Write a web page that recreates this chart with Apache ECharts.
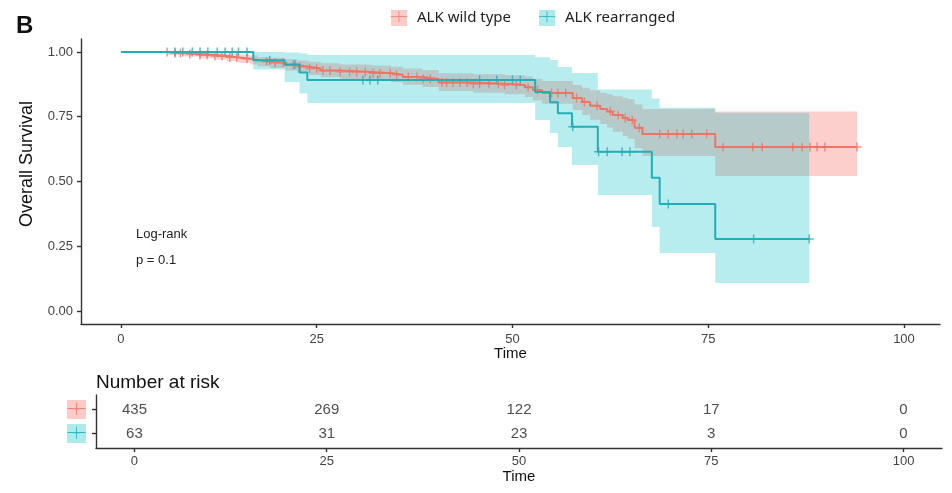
<!DOCTYPE html>
<html>
<head>
<meta charset="utf-8">
<script src="https://cdn.jsdelivr.net/npm/echarts@6/dist/echarts.min.js"></script>
<style>html,body{margin:0;padding:0;background:#fff}#c{width:952px;height:493px}</style>
</head>
<body>
<div id="c"></div>
<script>
// ---------- data ----------
const groupNames = ['ALK wild type', 'ALK rearranged'];

// ALK wild type: KM step curve
const wildTimes = [0, 6, 8, 10, 12, 13.5, 15, 16.5, 17.5, 19, 21, 22.5, 24, 25.5, 28, 32, 34.5, 36, 38.5, 40.6, 45, 49, 51.6, 52.6, 53.8, 57.7, 58.9, 59.9, 61.2, 62.1, 62.8, 64.1, 64.7, 65.6, 66.6, 75.9, 94];
const wildSurv  = [1, 0.996, 0.992, 0.988, 0.984, 0.979, 0.974, 0.969, 0.963, 0.958, 0.950, 0.943, 0.936, 0.928, 0.923, 0.918, 0.912, 0.903, 0.896, 0.882, 0.877, 0.872, 0.864, 0.853, 0.842, 0.822, 0.807, 0.792, 0.780, 0.770, 0.757, 0.745, 0.737, 0.707, 0.683, 0.633, 0.633];
const wildLower = [1, 0.988, 0.982, 0.976, 0.971, 0.965, 0.958, 0.952, 0.945, 0.938, 0.928, 0.920, 0.911, 0.902, 0.896, 0.890, 0.883, 0.873, 0.865, 0.849, 0.843, 0.837, 0.826, 0.813, 0.800, 0.776, 0.757, 0.738, 0.722, 0.708, 0.692, 0.676, 0.665, 0.628, 0.598, 0.521, 0.521];
const wildUpper = [1, 1, 1, 1, 0.997, 0.993, 0.990, 0.986, 0.981, 0.978, 0.972, 0.967, 0.962, 0.956, 0.952, 0.948, 0.943, 0.936, 0.930, 0.918, 0.914, 0.910, 0.905, 0.897, 0.888, 0.872, 0.862, 0.852, 0.843, 0.837, 0.829, 0.822, 0.817, 0.797, 0.780, 0.770, 0.770];
const wildCensor = [5.9, 6.9, 7.6, 8.8, 10.1, 11.0, 12.0, 12.9, 13.9, 14.8, 16.1, 18.6, 19.7, 20.7, 22.0, 22.9, 24.1, 25.0, 25.8, 26.7, 28.0, 29.2, 30.1, 31.2, 32.2, 33.1, 34.4, 35.2, 36.7, 37.8, 38.6, 39.5, 41.0, 41.6, 42.4, 43.3, 44.2, 45.0, 45.8, 47.0, 48.2, 49.0, 50.5, 52.0, 53.2, 55.0, 55.8, 56.8, 58.2, 59.2, 60.8, 62.5, 63.5, 64.4, 65.3, 66.2, 68.8, 69.9, 71.0, 71.8, 72.9, 74.8, 76.9, 80.7, 81.9, 85.8, 87.0, 88.0, 88.9, 89.9, 94.0];

// ALK rearranged: KM step curve
const rearTimes = [0, 16.9, 20.9, 22.8, 23.8, 52.9, 54.8, 55.8, 57.6, 60.9, 67.8, 68.8, 75.9, 87.9];
const rearSurv  = [1, 0.968, 0.952, 0.921, 0.892, 0.845, 0.806, 0.763, 0.711, 0.615, 0.514, 0.413, 0.278, 0.278];
const rearLower = [1, 0.932, 0.884, 0.840, 0.803, 0.737, 0.687, 0.633, 0.564, 0.448, 0.324, 0.224, 0.108, 0.108];
const rearUpper = [1, 1, 0.998, 0.995, 0.988, 0.980, 0.969, 0.942, 0.919, 0.855, 0.820, 0.785, 0.765, 0.765];
const rearCensor = [6.9, 7.9, 9.1, 10.1, 11.1, 12.3, 13.3, 14.2, 15.0, 16.1, 19.0, 22.2, 30.9, 31.8, 32.8, 45.8, 48.0, 50.0, 51.0, 57.7, 61.0, 62.1, 64.0, 65.0, 69.9, 80.8, 87.9];

// Number at risk table
const riskTimes = [0, 25, 50, 75, 100];
const riskWild  = [435, 269, 122, 17, 0];
const riskRear  = [63, 31, 23, 3, 0];

const xTicks = [0, 25, 50, 75, 100];
const yTicks = [0, 0.25, 0.5, 0.75, 1];

// ---------- helpers ----------
const RED = '#EE7566', TEAL = '#22AEB6';
const RED_BAND = 'rgba(248,118,109,0.35)', TEAL_BAND = 'rgba(0,191,196,0.28)';
const PLUS = 'path://M-0.8,-5H0.8V-0.8H5V0.8H0.8V5H-0.8V0.8H-5V-0.8H-0.8Z';
const FONT = 'Liberation Sans';

function stepAt(times, surv, t) {
  let v = surv[0];
  for (let i = 0; i < times.length; i++) { if (times[i] <= t) v = surv[i]; }
  return v;
}
const zip = (a, b) => a.map((v, i) => [v, b[i]]);

// confidence band as one stepped polygon, drawn through the axis scales (api.coord)
function band(name, times, lower, upper, color) {
  return {
    name, type: 'custom', xAxisIndex: 0, yAxisIndex: 0, silent: true, clip: true,
    data: [[times[0], lower[0]]],
    renderItem: (params, api) => {
      const pts = [];
      for (let i = 0; i < times.length; i++) {
        if (i > 0) pts.push(api.coord([times[i], upper[i - 1]]));
        pts.push(api.coord([times[i], upper[i]]));
      }
      for (let i = times.length - 1; i >= 0; i--) {
        pts.push(api.coord([times[i], lower[i]]));
        if (i > 0) pts.push(api.coord([times[i], lower[i - 1]]));
      }
      return { type: 'polygon', shape: { points: pts }, style: { fill: color } };
    }
  };
}

const boxRich = {
  r: { backgroundColor: 'rgba(248,118,109,0.38)', color: RED, width: 16, height: 16, align: 'center', fontFamily: 'DejaVu Sans Mono', fontSize: 9, lineHeight: 16 },
  t: { backgroundColor: 'rgba(0,191,196,0.32)', color: TEAL, width: 16, height: 16, align: 'center', fontFamily: 'DejaVu Sans Mono', fontSize: 9, lineHeight: 16 },
  s: { width: 10 }
};
const boxRich2 = {
  r: Object.assign({}, boxRich.r, { width: 19, height: 19, lineHeight: 19, fontSize: 10 }),
  t: Object.assign({}, boxRich.t, { width: 19, height: 19, lineHeight: 19, fontSize: 10 })
};

const axisLineStyle = { color: '#333', width: 1.4 };

const chart = echarts.init(document.getElementById('c'), null, { renderer: 'canvas' });
chart.setOption({
  animation: false,
  backgroundColor: '#fff',
  textStyle: { fontFamily: FONT },
  title: [
    { text: 'B', left: 11, top: 9, textStyle: { fontSize: 24, fontWeight: 'bold', color: '#111', fontFamily: FONT } },
    { text: 'Number at risk', left: 91, top: 368, textStyle: { fontSize: 19, fontWeight: 'normal', color: '#111', fontFamily: FONT } }
  ],
  legend: {
    data: groupNames,
    left: 381, top: 5,
    itemWidth: 0, itemHeight: 0, itemGap: 23,
    icon: 'rect',
    formatter: name => (name === groupNames[0] ? '{r|─┼─}' : '{t|─┼─}') + '{s|}' + name,
    textStyle: { fontFamily: 'Noto Sans', fontSize: 15, color: '#222', rich: boxRich }
  },
  grid: [
    { left: 81, right: 12, top: 39, bottom: 169, containLabel: false },
    { left: 96, right: 10, top: 395, bottom: 45, containLabel: false }
  ],
  xAxis: [
    { type: 'value', gridIndex: 0, min: -5.1, max: 104.6,
      axisLine: { show: true, onZero: false, lineStyle: axisLineStyle },
      axisTick: { show: true, length: 4, customValues: xTicks, lineStyle: axisLineStyle },
      axisLabel: { customValues: xTicks, margin: 9, fontSize: 13, color: '#444', fontFamily: FONT },
      splitLine: { show: false },
      name: 'Time', nameLocation: 'middle', nameGap: 22, nameMoveOverlap: false,
      nameTextStyle: { fontSize: 15, color: '#111', fontFamily: FONT, verticalAlign: 'top' } },
    { type: 'value', gridIndex: 1, min: -5, max: 105,
      axisLine: { show: true, onZero: false, lineStyle: axisLineStyle },
      axisTick: { show: true, length: 4, customValues: xTicks, lineStyle: axisLineStyle },
      axisLabel: { customValues: xTicks, margin: 7, fontSize: 13, color: '#444', fontFamily: FONT },
      splitLine: { show: false },
      name: 'Time', nameLocation: 'middle', nameGap: 20,
      nameTextStyle: { fontSize: 15, color: '#111', fontFamily: FONT, verticalAlign: 'top' } }
  ],
  yAxis: [
    { type: 'value', gridIndex: 0, min: -0.05, max: 1.05,
      axisLine: { show: true, onZero: false, lineStyle: axisLineStyle },
      axisTick: { show: true, length: 4, customValues: yTicks, lineStyle: axisLineStyle },
      axisLabel: { customValues: yTicks, margin: 8, fontSize: 13, color: '#444', fontFamily: FONT, formatter: v => v.toFixed(2) },
      splitLine: { show: false } },
    { type: 'value', gridIndex: 1, min: 0.4, max: 2.6, inverse: true,
      axisLine: { show: true, onZero: false, lineStyle: axisLineStyle },
      axisTick: { show: true, length: 4, customValues: [1, 2], lineStyle: axisLineStyle },
      axisLabel: { customValues: [1, 2], margin: 10, formatter: v => (v === 1 ? '{r|─┼─}' : '{t|─┼─}'), rich: boxRich2 },
      splitLine: { show: false } }
  ],
  graphic: [
    { type: 'text', x: 27, y: 164, rotation: Math.PI / 2,
      style: { text: 'Overall Survival', font: '18px "Liberation Sans"', fill: '#111', align: 'center', verticalAlign: 'middle' } },
    { type: 'text', x: 136, y: 234,
      style: { text: 'Log-rank', font: '13px "Liberation Sans"', fill: '#222', align: 'left', verticalAlign: 'middle' } },
    { type: 'text', x: 136, y: 260,
      style: { text: 'p = 0.1', font: '13px "Liberation Sans"', fill: '#222', align: 'left', verticalAlign: 'middle' } }
  ],
  series: [
    band(groupNames[0], wildTimes, wildLower, wildUpper, RED_BAND),
    band(groupNames[1], rearTimes, rearLower, rearUpper, TEAL_BAND),
    { name: groupNames[0], type: 'line', xAxisIndex: 0, yAxisIndex: 0, step: 'end', symbol: 'none',
      lineStyle: { color: RED, width: 2 }, itemStyle: { color: RED }, data: zip(wildTimes, wildSurv) },
    { name: groupNames[1], type: 'line', xAxisIndex: 0, yAxisIndex: 0, step: 'end', symbol: 'none',
      lineStyle: { color: TEAL, width: 2 }, itemStyle: { color: TEAL }, data: zip(rearTimes, rearSurv) },
    { name: groupNames[0], type: 'scatter', xAxisIndex: 0, yAxisIndex: 0, symbol: PLUS, symbolSize: 9,
      itemStyle: { color: RED }, data: wildCensor.map(t => [t, stepAt(wildTimes, wildSurv, t)]) },
    { name: groupNames[1], type: 'scatter', xAxisIndex: 0, yAxisIndex: 0, symbol: PLUS, symbolSize: 9,
      itemStyle: { color: TEAL }, data: rearCensor.map(t => [t, stepAt(rearTimes, rearSurv, t)]) },
    { name: 'risk', type: 'scatter', xAxisIndex: 1, yAxisIndex: 1, symbolSize: 1,
      itemStyle: { color: 'transparent' },
      label: { show: true, position: 'inside', formatter: p => String(p.value[2]), fontSize: 15, color: '#222', fontFamily: FONT },
      data: riskTimes.map((t, i) => [t, 1, riskWild[i]]).concat(riskTimes.map((t, i) => [t, 2, riskRear[i]])) }
  ]
});
</script>
</body>
</html>
